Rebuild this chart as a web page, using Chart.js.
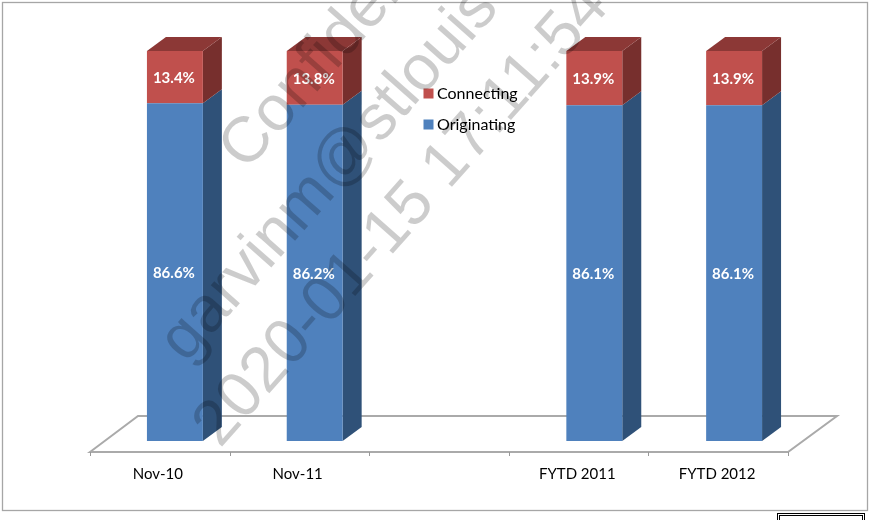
<!DOCTYPE html>
<html><head><meta charset="utf-8">
<script src="https://cdn.jsdelivr.net/npm/chart.js@4"></script>
<style>html,body{margin:0;padding:0;background:#fff}canvas{display:block}</style>
</head><body><canvas id="c" width="869" height="520"></canvas>
<script>
const categories = ['Nov-10', 'Nov-11', '', 'FYTD 2011', 'FYTD 2012'];
const originating = [86.6, 86.2, null, 86.1, 86.1];
const connecting = [13.4, 13.8, null, 13.9, 13.9];
const watermarkLines = ['Confidential', 'garvinm@stlouis', '2020-01-15 17:11:54'];

const DX = 19, DY = 14;
const extras = {
  id: 'extras',
  beforeDraw(chart) {
    const { ctx } = chart;
    ctx.save();
    ctx.strokeStyle = '#a6a6a6'; ctx.lineWidth = 1.3;
    ctx.strokeRect(2.5, 2.5, 865, 508);
    ctx.strokeStyle = '#000'; ctx.lineWidth = 1;
    ctx.strokeRect(777.5, 513.5, 87, 12);
    ctx.strokeRect(779.5, 515.5, 83, 12);
    ctx.restore();
  },
  beforeDatasetsDraw(chart) {
    const { ctx } = chart, x = chart.scales.x;
    const left = x.left - 15, right = x.right - 16, fy = chart.scales.y.bottom + 11;
    ctx.save();
    ctx.strokeStyle = '#aaaaaa'; ctx.lineWidth = 2;
    ctx.beginPath();
    ctx.moveTo(left, fy); ctx.lineTo(left + 48, fy - 36);
    ctx.lineTo(right + 49, fy - 36); ctx.lineTo(right, fy); ctx.closePath();
    ctx.stroke();
    ctx.lineWidth = 1; ctx.strokeStyle = '#999999';
    const step = (right - left) / categories.length;
    for (let i = 0; i <= categories.length; i++) {
      const tx = Math.round(left + step * i) + .5;
      ctx.beginPath(); ctx.moveTo(tx, fy); ctx.lineTo(tx, fy + 4); ctx.stroke();
    }
    const paint = [['#2f5178', null], ['#772f2d', '#8c3836']];
    chart.data.datasets.forEach((ds, d) => {
      chart.getDatasetMeta(d).data.forEach((b, i) => {
        if (ds.data[i] == null) return;
        const l = b.x - b.width / 2, r = b.x + b.width / 2, t = b.y, bt = b.base;
        ctx.fillStyle = paint[d][0];
        ctx.beginPath();
        ctx.moveTo(r, t); ctx.lineTo(r + DX, t - DY); ctx.lineTo(r + DX, bt - DY); ctx.lineTo(r, bt);
        ctx.closePath(); ctx.fill();
        if (paint[d][1]) {
          ctx.fillStyle = paint[d][1];
          ctx.beginPath();
          ctx.moveTo(l, t); ctx.lineTo(l + DX, t - DY); ctx.lineTo(r + DX, t - DY); ctx.lineTo(r, t);
          ctx.closePath(); ctx.fill();
        }
      });
    });
    ctx.restore();
  },
  afterDatasetsDraw(chart) {
    const { ctx } = chart;
    ctx.save();
    ctx.fillStyle = '#fff'; ctx.font = 'bold 15px Lato';
    ctx.textAlign = 'center'; ctx.textBaseline = 'middle';
    chart.data.datasets.forEach((ds, d) => {
      chart.getDatasetMeta(d).data.forEach((b, i) => {
        if (ds.data[i] == null) return;
        ctx.fillText(ds.data[i].toFixed(1) + '%', b.x - 1, (b.y + b.base) / 2 + 1);
      });
    });
    ctx.restore();
  },
  afterDraw(chart) {
    const { ctx } = chart;
    ctx.save();
    ctx.fillStyle = 'rgba(0,0,0,0.2)';
    ctx.font = '64px "Liberation Sans"';
    ctx.textAlign = 'left'; ctx.textBaseline = 'alphabetic';
    const starts = [[246, 172], [186, 364], [220, 449]];
    watermarkLines.forEach((s, i) => {
      ctx.save();
      ctx.translate(starts[i][0], starts[i][1]);
      ctx.rotate(-48.5 * Math.PI / 180);
      ctx.fillText(s, 0, 0);
      ctx.restore();
    });
    ctx.restore();
  },
  afterLayout(chart) {
    const lg = chart.legend;
    lg.left = 413; lg.right = 560; lg.top = 70.5; lg.bottom = 160;
    lg.adjustHitBoxes();
  }
};

new Chart(document.getElementById('c'), {
  type: 'bar',
  data: {
    labels: categories,
    datasets: [
      { label: 'Originating', data: originating, backgroundColor: '#4f81bd', borderWidth: 0 },
      { label: 'Connecting', data: connecting, backgroundColor: '#c0504d', borderWidth: 0 }
    ]
  },
  options: {
    responsive: false, animation: false,
    layout: { padding: { left: 105, right: 65, top: 51, bottom: 21 } },
    datasets: { bar: { barPercentage: 0.4, categoryPercentage: 1 } },
    plugins: {
      tooltip: { enabled: false },
      legend: {
        position: 'chartArea', align: 'start', reverse: true,
        labels: { usePointStyle: true, pointStyle: 'rect', boxWidth: 1, boxHeight: 10, padding: 15,
          color: '#000', font: { family: 'Lato', size: 16 } }
      }
    },
    scales: {
      x: { stacked: true, grid: { display: false }, border: { display: false },
        ticks: { autoSkip: false, maxRotation: 0, labelOffset: -17, padding: 16, color: '#000', font: { family: 'Lato', size: 15 } } },
      y: { stacked: true, display: false, min: 0, max: 100 }
    }
  },
  plugins: [extras]
});
</script></body></html>
